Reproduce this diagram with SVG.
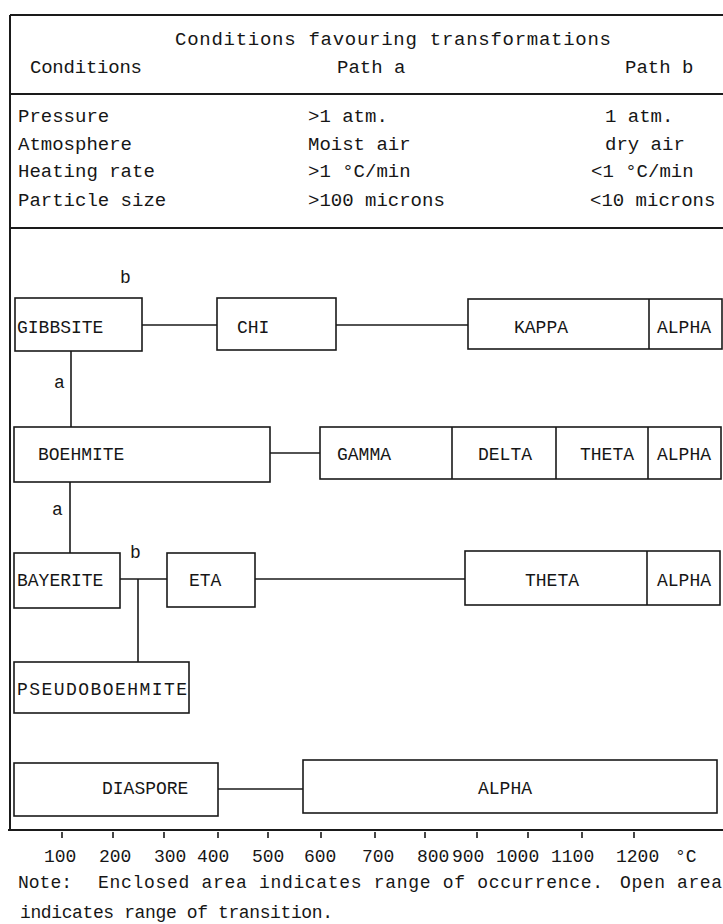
<svg xmlns="http://www.w3.org/2000/svg" width="723" height="924" viewBox="0 0 723 924">
<style>
text{font-family:"Liberation Mono","DejaVu Sans Mono",monospace;fill:#161616;}
.t{font-size:19px;}
.n{font-size:18px;}
.box{fill:none;stroke:#1a1a1a;stroke-width:1.6;}
.ln{fill:none;stroke:#1a1a1a;stroke-width:1.6;}
.fr{fill:none;stroke:#1a1a1a;stroke-width:2;}
</style>
<rect width="723" height="924" fill="#fff"/>
<g id="frame">
<path class="fr" d="M10,15 H723 M10,94 H723 M10,228 H723 M8,830 H723 M10,15 V830"/>
<path class="ln" d="M62,832V838 M113,832V838 M164,832V838 M218,832V838 M268,832V838 M321,832V838 M375,832V838 M425,832V838 M477,832V838 M528,832V838 M582,832V838 M634,832V838"/>
</g>
<g id="table">
<text class="t" x="175" y="45" textLength="436" lengthAdjust="spacing">Conditions favouring transformations</text>
<text class="t" x="30" y="73" textLength="112" lengthAdjust="spacing">Conditions</text>
<text class="t" x="337" y="73">Path a</text>
<text class="t" x="625" y="73">Path b</text>
<text class="t" x="18" y="122">Pressure</text>
<text class="t" x="18" y="150">Atmosphere</text>
<text class="t" x="18" y="177">Heating rate</text>
<text class="t" x="18" y="206">Particle size</text>
<text class="t" x="308" y="122">&gt;1 atm.</text>
<text class="t" x="308" y="150">Moist air</text>
<text class="t" x="308" y="177">&gt;1 °C/min</text>
<text class="t" x="308" y="206">&gt;100 microns</text>
<text class="t" x="605" y="122">1 atm.</text>
<text class="t" x="605" y="150">dry air</text>
<text class="t" x="591" y="177">&lt;1 °C/min</text>
<text class="t" x="590" y="206">&lt;10 microns</text>
</g>
<g id="connectors">
<path class="ln" d="M142,325 H217"/>
<path class="ln" d="M336,325 H468"/>
<path class="ln" d="M71,351 V427"/>
<path class="ln" d="M270,453 H320"/>
<path class="ln" d="M70,482 V553"/>
<path class="ln" d="M120,579 H167"/>
<path class="ln" d="M138,579 V662"/>
<path class="ln" d="M255,579 H465"/>
<path class="ln" d="M218,789 H303"/>
<text class="n" x="120" y="283">b</text>
<text class="n" x="54" y="388">a</text>
<text class="n" x="52" y="515">a</text>
<text class="n" x="130" y="558">b</text>
</g>
<g id="gibbsite">
<rect class="box" x="15" y="298" width="127" height="53"/>
<text class="n" x="17" y="333">GIBBSITE</text>
</g>
<g id="chi">
<rect class="box" x="217" y="298" width="119" height="52"/>
<text class="n" x="237" y="333">CHI</text>
</g>
<g id="kappa-alpha">
<rect class="box" x="468" y="299" width="254" height="50"/>
<path class="ln" d="M649,299 V349"/>
<text class="n" x="514" y="333">KAPPA</text>
<text class="n" x="657" y="333">ALPHA</text>
</g>
<g id="boehmite">
<rect class="box" x="14" y="427" width="256" height="55"/>
<text class="n" x="38" y="460">BOEHMITE</text>
</g>
<g id="gamma-delta-theta-alpha">
<rect class="box" x="320" y="427" width="401" height="52"/>
<path class="ln" d="M452,427 V479 M556,427 V479 M648,427 V479"/>
<text class="n" x="337" y="460">GAMMA</text>
<text class="n" x="478" y="460">DELTA</text>
<text class="n" x="580" y="460">THETA</text>
<text class="n" x="657" y="460">ALPHA</text>
</g>
<g id="bayerite">
<rect class="box" x="14" y="553" width="106" height="55"/>
<text class="n" x="17" y="586">BAYERITE</text>
</g>
<g id="eta">
<rect class="box" x="167" y="553" width="88" height="54"/>
<text class="n" x="189" y="586">ETA</text>
</g>
<g id="theta-alpha">
<rect class="box" x="465" y="551" width="255" height="54"/>
<path class="ln" d="M647,551 V605"/>
<text class="n" x="525" y="586">THETA</text>
<text class="n" x="657" y="586">ALPHA</text>
</g>
<g id="pseudoboehmite">
<rect class="box" x="14" y="662" width="175" height="51"/>
<text class="n" x="17" y="695" textLength="170" lengthAdjust="spacing">PSEUDOBOEHMITE</text>
</g>
<g id="diaspore">
<rect class="box" x="14" y="763" width="204" height="53"/>
<text class="n" x="102" y="794">DIASPORE</text>
</g>
<g id="alpha">
<rect class="box" x="303" y="760" width="414" height="53"/>
<text class="n" x="478" y="794">ALPHA</text>
</g>
<g id="axis">
<text class="n" x="44" y="862">100</text>
<text class="n" x="99" y="862">200</text>
<text class="n" x="154" y="862">300</text>
<text class="n" x="197" y="862">400</text>
<text class="n" x="252" y="862">500</text>
<text class="n" x="304" y="862">600</text>
<text class="n" x="362" y="862">700</text>
<text class="n" x="417" y="862">800</text>
<text class="n" x="452" y="862">900</text>
<text class="n" x="496" y="862">1000</text>
<text class="n" x="551" y="862">1100</text>
<text class="n" x="616" y="862">1200</text>
<text class="n" x="675" y="862">°C</text>
</g>
<g id="note">
<text class="n" x="18" y="888">Note:</text>
<text class="n" x="98" y="888" textLength="505" lengthAdjust="spacing">Enclosed area indicates range of occurrence.</text>
<text class="n" x="620" y="888" textLength="102" lengthAdjust="spacing">Open area</text>
<text class="n" x="20" y="918" textLength="313" lengthAdjust="spacing">indicates range of transition.</text>
</g>
</svg>
